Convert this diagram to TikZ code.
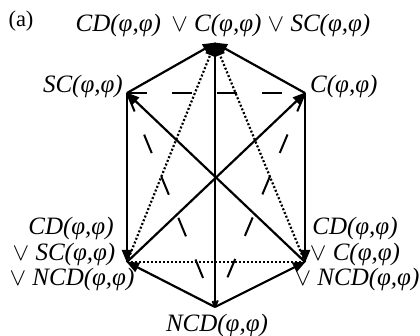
\documentclass[tikz,border=0pt]{standalone}
\usepackage{fontspec}
\setmainfont{Liberation Serif}
\usetikzlibrary{arrows.meta}
\begin{document}
\begin{tikzpicture}[x=1pt,y=-1pt,
  lbl/.style={font=\fontsize{25}{26}\selectfont\itshape, inner sep=0pt, align=center},
  tip/.style={-{Triangle[length=13pt,width=10pt]}},
  sol/.style={line width=2.2pt, tip, shorten >=-1pt},
  dsh/.style={line width=2pt, dash pattern=on 20pt off 25pt},
  dotl/.style={line width=2.2pt, dash pattern=on 2pt off 2pt},
  dota/.style={dotl, tip}]
\useasboundingbox (0,0) rectangle (420,336);
\coordinate (T) at (215,43);
\coordinate (L) at (127,93);
\coordinate (R) at (305,93);
\coordinate (BL) at (127,262);
\coordinate (BR) at (305,262);
\coordinate (B) at (215,307);
% labels
\node[font=\fontsize{22.5}{24}\selectfont, inner sep=0pt] (a) at (21,21) {(a)};
\node[lbl] (tl) at (223,25) {CD(φ,φ) \,$\vee$ C(φ,φ) $\vee$ SC(φ,φ)};
\node[lbl, anchor=east] (ll) at (123,86) {SC(φ,φ)};
\node[lbl, anchor=west] (rl) at (310,86) {C(φ,φ)};
\node[lbl, anchor=base] (bl1) at (71,235) {CD(φ,φ)};
\node[lbl, anchor=base] (bl2) at (64,260.5) {$\vee$ SC(φ,φ)};
\node[lbl, anchor=base] (bl3) at (72,286) {$\vee$ NCD(φ,φ)};
\node[lbl, anchor=base] (br1) at (355,235) {CD(φ,φ)};
\node[lbl, anchor=base] (br2) at (355,260.5) {$\vee$ C(φ,φ)};
\node[lbl, anchor=base] (br3) at (357,286) {$\vee$ NCD(φ,φ)};
\node[lbl] (bl) at (217,325) {NCD(φ,φ)};
% dashed triangle
\draw[dsh] (L) -- (R);
\draw[dsh] (L) -- (B);
\draw[dsh] (R) -- (B);
% dotted
\draw[dotl] (BL) -- (BR);
\draw[dota] (BL) -- (T);
\draw[dota] (BR) -- (T);
% solid
\draw[sol] (L) -- (T);
\draw[sol] (R) -- (T);
\draw[sol] (B) -- (T);
\draw[sol] (L) -- (BL);
\draw[sol] (R) -- (BR);
\draw[sol] (B) -- (BL);
\draw[sol] (B) -- (BR);
\draw[sol] (BR) -- (L);
\draw[sol] (BL) -- (R);
\end{tikzpicture}
\end{document}
